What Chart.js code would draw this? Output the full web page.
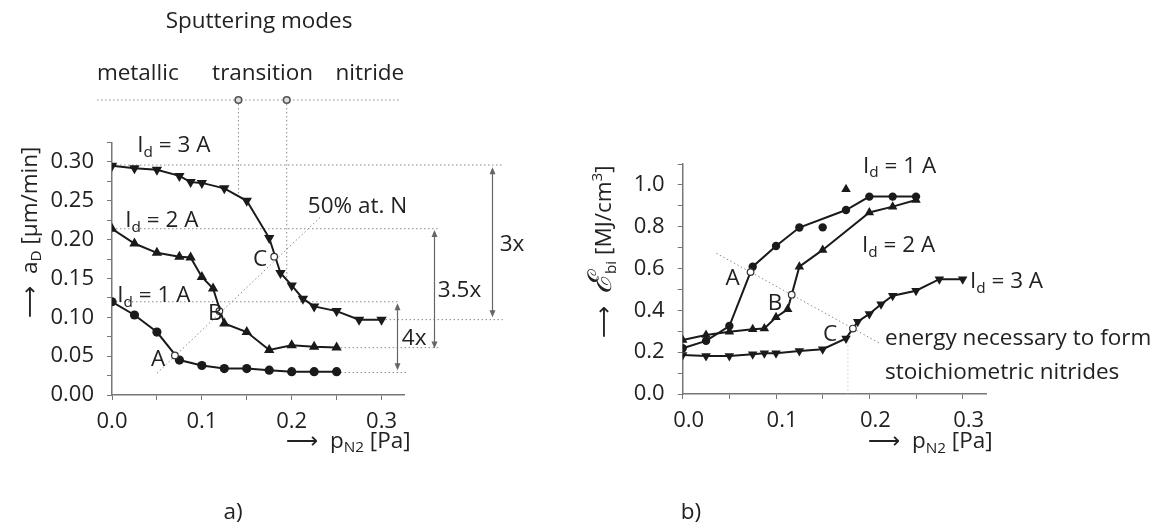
<!DOCTYPE html>
<html><head><meta charset="utf-8">
<script src="https://cdn.jsdelivr.net/npm/chart.js@4.4.0/dist/chart.umd.min.js"></script>
<style>
html,body{margin:0;padding:0;background:#fff;}
#wrap{position:relative;width:1165px;height:531px;overflow:hidden;background:#fff;}
#ca{position:absolute;left:0;top:0;}
#cb{position:absolute;left:560px;top:0;}
</style></head><body>
<div id="wrap"><canvas id="ca" width="560" height="531"></canvas><canvas id="cb" width="605" height="531"></canvas></div>
<script>
// ---------- data: panel a) deposition rate a_D [µm/min] vs p_N2 [Pa] ----------
const pN2_1A = [0, 0.025, 0.05, 0.075, 0.1, 0.125, 0.15, 0.175, 0.2, 0.225, 0.25];
const rate_1A = [0.120, 0.103, 0.081, 0.045, 0.038, 0.034, 0.034, 0.032, 0.030, 0.030, 0.030];
const pN2_2A = [0, 0.025, 0.05, 0.075, 0.0875, 0.1, 0.1125, 0.125, 0.15, 0.175, 0.2, 0.225, 0.25];
const rate_2A = [0.214, 0.195, 0.183, 0.178, 0.177, 0.152, 0.137, 0.092, 0.081, 0.058, 0.064, 0.062, 0.061];
const pN2_3A = [0, 0.025, 0.05, 0.075, 0.0875, 0.1, 0.125, 0.15, 0.175, 0.1875, 0.2, 0.2125, 0.225, 0.25, 0.275, 0.3];
const rate_3A = [0.295, 0.292, 0.290, 0.282, 0.274, 0.273, 0.266, 0.250, 0.202, 0.157, 0.141, 0.124, 0.114, 0.108, 0.097, 0.097];
// 50% at. N points A, B, C
const rateMarkX = [0.070, 0.1195, 0.1805];
const rateMarkY = [0.051, 0.108, 0.178];

// ---------- data: panel b) energy E_bi [MJ/cm3] vs p_N2 [Pa] ----------
const eX_1A = [0, 0.025, 0.05, 0.075, 0.1, 0.125, 0.175, 0.2, 0.225, 0.25];
const e_1A = [0.219, 0.254, 0.325, 0.609, 0.708, 0.796, 0.880, 0.944, 0.944, 0.944];
const eX_1A_extra = [0.15];
const e_1A_extra = [0.797];
const eX_2A = [0, 0.025, 0.05, 0.075, 0.0875, 0.1, 0.1125, 0.125, 0.15, 0.2, 0.225, 0.25];
const e_2A = [0.258, 0.282, 0.298, 0.310, 0.313, 0.367, 0.405, 0.609, 0.689, 0.868, 0.896, 0.928];
const eX_2A_extra = [0.175];
const e_2A_extra = [0.979];
const eX_3A = [0, 0.025, 0.05, 0.075, 0.0875, 0.1, 0.125, 0.15, 0.175, 0.1875, 0.2, 0.2125, 0.225, 0.25, 0.275, 0.3];
const e_3A = [0.187, 0.182, 0.182, 0.190, 0.195, 0.195, 0.206, 0.214, 0.266, 0.346, 0.383, 0.429, 0.470, 0.494, 0.549, 0.549];
const eMarkX = [0.0727, 0.1168, 0.1824];
const eMarkY = [0.583, 0.475, 0.313];

// ---------- tick labels ----------
const aXTickLabels = ['0.0', '0.1', '0.2', '0.3'];
const aYTickLabels = ['0.00', '0.05', '0.10', '0.15', '0.20', '0.25', '0.30'];
const bXTickLabels = ['0.0', '0.1', '0.2', '0.3'];
const bYTickLabels = ['0.0', '0.2', '0.4', '0.6', '0.8', '1.0'];

// ---------- helpers ----------
const FONT = "'Open Sans', 'DejaVu Sans', sans-serif";
const TXT = '#222';
const TSIZE = 22.5;
const xy = (xs, ys) => xs.map((x, i) => ({x: x, y: ys[i]}));

function partFont(p, size) {
  let s = size * (p.s || 1);
  if (p.k === 'sub' || p.k === 'sup') s = size * 0.68;
  return (p.st ? p.st + ' ' : '') + s + 'px ' + (p.f || FONT);
}
function drawRich(ctx, parts, x, y, align, size) {
  let w = 0;
  for (const p of parts) { ctx.font = partFont(p, size); w += ctx.measureText(p.t).width; }
  let cx = align === 'center' ? x - w / 2 : (align === 'right' ? x - w : x);
  const base = y + size * 0.36;
  ctx.textAlign = 'left'; ctx.textBaseline = 'alphabetic';
  for (const p of parts) {
    ctx.font = partFont(p, size);
    const dy = p.k === 'sub' ? size * 0.2 : (p.k === 'sup' ? -size * 0.42 : 0);
    ctx.fillText(p.t, cx, base + dy);
    cx += ctx.measureText(p.t).width;
  }
}
const T = (t, k) => ({t: t, k: k});

function annoPlugin(spec) {
  return {
    id: 'anno',
    beforeDatasetsDraw(chart) {
      const ctx = chart.ctx, sx = chart.scales.x, sy = chart.scales.y;
      ctx.save();
      for (const d of spec.dotted) {
        ctx.strokeStyle = d[4] || '#8a8a8a';
        ctx.lineWidth = 1;
        ctx.setLineDash([1.5, 2.5]);
        ctx.beginPath();
        ctx.moveTo(sx.getPixelForValue(d[0]), sy.getPixelForValue(d[1]));
        ctx.lineTo(sx.getPixelForValue(d[2]), sy.getPixelForValue(d[3]));
        ctx.stroke();
      }
      ctx.restore();
    },
    afterDatasetsDraw(chart) {
      const ctx = chart.ctx, sx = chart.scales.x, sy = chart.scales.y;
      ctx.save();
      for (const a of spec.arrows) {
        const x = Math.round(sx.getPixelForValue(a[0])) + 0.5;
        const y1 = sy.getPixelForValue(a[1]), y2 = sy.getPixelForValue(a[2]);
        ctx.strokeStyle = '#666'; ctx.fillStyle = '#666'; ctx.lineWidth = 1.2; ctx.setLineDash([]);
        ctx.beginPath(); ctx.moveTo(x, y1 + 2); ctx.lineTo(x, y2 - 2); ctx.stroke();
        ctx.beginPath(); ctx.moveTo(x, y1); ctx.lineTo(x - 3, y1 + 7); ctx.lineTo(x + 3, y1 + 7); ctx.closePath(); ctx.fill();
        ctx.beginPath(); ctx.moveTo(x, y2); ctx.lineTo(x - 3, y2 - 7); ctx.lineTo(x + 3, y2 - 7); ctx.closePath(); ctx.fill();
      }
      for (const c of spec.circles) {
        ctx.setLineDash([]);
        ctx.beginPath();
        ctx.arc(sx.getPixelForValue(c[0]), sy.getPixelForValue(c[1]), 3.3, 0, Math.PI * 2);
        ctx.fillStyle = '#ddd'; ctx.fill();
        ctx.strokeStyle = '#555'; ctx.lineWidth = 1.6; ctx.stroke();
      }
      ctx.fillStyle = TXT;
      for (const t of spec.texts) {
        const px = sx.getPixelForValue(t.x), py = sy.getPixelForValue(t.y);
        if (t.rot) {
          ctx.save(); ctx.translate(px, py); ctx.rotate(-Math.PI / 2);
          drawRich(ctx, t.parts, 0, 0, t.align || 'left', t.size || TSIZE);
          ctx.restore();
        } else {
          drawRich(ctx, t.parts, px, py, t.align || 'left', t.size || TSIZE);
        }
      }
      ctx.restore();
    }
  };
}

function axisScales(xMax, yMax, xStep, yStep, xLabels, yLabels, yWidth, xLabelOffset) {
  const tickFont = {family: FONT, size: 22};
  return {
    x: {
      type: 'linear', min: 0, max: xMax,
      afterFit(s) { s.height = 40; },
      border: {color: '#777', width: 1.5},
      grid: {drawOnChartArea: false, drawTicks: true, tickLength: 5, color: '#777', lineWidth: 1},
      ticks: {
        stepSize: xStep, includeBounds: false, autoSkip: false, maxRotation: 0,
        color: TXT, font: tickFont, padding: 9, labelOffset: xLabelOffset,
        callback: (v, i) => (i % 2 === 0 && xLabels[i / 2] !== undefined) ? xLabels[i / 2] : ''
      }
    },
    y: {
      type: 'linear', min: 0, max: yMax,
      afterFit(s) { s.width = yWidth; },
      border: {color: '#777', width: 1.5},
      grid: {drawOnChartArea: false, drawTicks: true, tickLength: 5, color: '#777', lineWidth: 1},
      ticks: {
        stepSize: yStep, includeBounds: false, autoSkip: false,
        color: TXT, font: tickFont, padding: 13,
        callback: (v, i) => (i % 2 === 0 && yLabels[i / 2] !== undefined) ? yLabels[i / 2] : ''
      }
    }
  };
}

const lineDs = (data, style, r, rot) => ({
  data: data, showLine: true, tension: 0,
  borderColor: '#1a1a1a', backgroundColor: '#1a1a1a', borderWidth: 2,
  pointStyle: style, pointRadius: r, rotation: rot || 0,
  pointBorderWidth: 0, pointBackgroundColor: '#1a1a1a'
});
const markDs = (data) => ({
  data: data, showLine: false, pointStyle: 'circle', pointRadius: 3.3,
  pointBackgroundColor: '#fff', pointBorderColor: '#333', pointBorderWidth: 1.2
});
const strayDs = (data, style, r) => ({
  data: data, showLine: false, pointStyle: style, pointRadius: r,
  pointBackgroundColor: '#1a1a1a', pointBorderWidth: 0
});

const commonOpts = {
  responsive: false, animation: false, events: [],
  plugins: {legend: {display: false}, tooltip: {enabled: false}}
};

// ---------- panel a ----------
const specA = {
  dotted: [
    [-0.0166, 0.3797, 0.3203, 0.3797],
    [0.1407, 0.3797, 0.1407, 0.258],
    [0.1945, 0.3797, 0.1945, 0.149],
    [0, 0.296, 0.435, 0.296],
    [0, 0.214, 0.365, 0.214],
    [0, 0.120, 0.32, 0.120],
    [0.3, 0.097, 0.435, 0.097],
    [0.25, 0.061, 0.365, 0.061],
    [0.25, 0.029, 0.328, 0.029],
    [0.05, 0.028, 0.232, 0.229]
  ],
  arrows: [[0.423, 0.293, 0.100], [0.358, 0.2125, 0.060], [0.3167, 0.118, 0.032]],
  circles: [[0.1407, 0.3797], [0.1945, 0.3797]],
  texts: [
    {x: 0.1637, y: 0.4826, parts: [T('Sputtering modes')], align: 'center'},
    {x: 0.0287, y: 0.4157, parts: [T('metallic')], align: 'center'},
    {x: 0.1676, y: 0.4157, parts: [T('transition')], align: 'center'},
    {x: 0.2870, y: 0.4157, parts: [T('nitride')], align: 'center'},
    {x: 0.0281, y: 0.323, parts: [T('I'), T('d', 'sub'), T(' = 3 A')]},
    {x: 0.0148, y: 0.2265, parts: [T('I'), T('d', 'sub'), T(' = 2 A')]},
    {x: 0.0059, y: 0.130, parts: [T('I'), T('d', 'sub'), T(' = 1 A')]},
    {x: 0.1648, y: 0.1763, parts: [T('C')], align: 'center'},
    {x: 0.1148, y: 0.1068, parts: [T('B')], align: 'center'},
    {x: 0.0514, y: 0.0476, parts: [T('A')], align: 'center'},
    {x: 0.218, y: 0.2445, parts: [T('50% at. N')]},
    {x: 0.4315, y: 0.1956, parts: [T('3x')]},
    {x: 0.3626, y: 0.1364, parts: [T('3.5x')]},
    {x: 0.3226, y: 0.0746, parts: [T('4x')]},
    {x: 0.1348, y: -0.1493, parts: [T('a)')], align: 'center'},
    {x: 0.1937, y: -0.0575, parts: [T('\u27F6'), T('  p'), T('N2', 'sub'), T(' [Pa]')]},
    {x: -0.093, y: 0.0991, rot: true, parts: [T('\u27F6'), T('  a'), T('D', 'sub'), T(' [\u00B5m/min]')]}
  ]
};

new Chart(document.getElementById('ca'), {
  type: 'scatter',
  data: {datasets: [
    markDs(xy(rateMarkX, rateMarkY)),
    lineDs(xy(pN2_1A, rate_1A), 'circle', 4.6),
    lineDs(xy(pN2_2A, rate_2A), 'triangle', 6),
    lineDs(xy(pN2_3A, rate_3A), 'triangle', 6, 180)
  ]},
  options: Object.assign({}, commonOpts, {
    layout: {padding: {left: 0, right: 156, top: 142.5, bottom: 96}},
    scales: axisScales(0.325, 0.325, 0.05, 0.025, aXTickLabels, aYTickLabels, 112, 0)
  }),
  plugins: [annoPlugin(specA)]
});

// ---------- panel b ----------
const specB = {
  dotted: [
    [0.036, 0.673, 0.211, 0.243],
    [0.177, 0.27, 0.177, 0.0, '#d0d0d0']
  ],
  arrows: [],
  circles: [],
  texts: [
    {x: 0.1932, y: 1.0957, parts: [T('I'), T('d', 'sub'), T(' = 1 A')]},
    {x: 0.1921, y: 0.7177, parts: [T('I'), T('d', 'sub'), T(' = 2 A')]},
    {x: 0.3078, y: 0.5455, parts: [T('I'), T('d', 'sub'), T(' = 3 A')]},
    {x: 0.0536, y: 0.5598, parts: [T('A')], align: 'center'},
    {x: 0.0989, y: 0.4402, parts: [T('B')], align: 'center'},
    {x: 0.1578, y: 0.2919, parts: [T('C')], align: 'center'},
    {x: 0.2168, y: 0.2727, parts: [T('energy necessary to form')]},
    {x: 0.2168, y: 0.110, parts: [T('stoichiometric nitrides')]},
    {x: 0.0089, y: -0.5598, parts: [T('b)')], align: 'center'},
    {x: 0.1985, y: -0.22, parts: [T('\u27F6'), T('  p'), T('N2', 'sub'), T(' [Pa]')]},
    {x: -0.0854, y: 0.268, rot: true, parts: [T('\u27F6'), T('  '), {t: '\u2130', s: 1.45, f: "'DejaVu Serif', serif", st: 'italic'}, T('bi', 'sub'), T(' [MJ/cm'), T('3', 'sup'), T(']')]}
  ]
};

new Chart(document.getElementById('cb'), {
  type: 'scatter',
  data: {datasets: [
    markDs(xy(eMarkX, eMarkY)),
    lineDs(xy(eX_1A, e_1A), 'circle', 4.2),
    strayDs(xy(eX_1A_extra, e_1A_extra), 'circle', 4.2),
    lineDs(xy(eX_2A, e_2A), 'triangle', 5.5),
    strayDs(xy(eX_2A_extra, e_2A_extra), 'triangle', 5.5),
    lineDs(xy(eX_3A, e_3A), 'triangle', 5.5, 180)
  ]},
  options: Object.assign({}, commonOpts, {
    layout: {padding: {left: 0, right: 179, top: 164, bottom: 97}},
    scales: axisScales(0.325, 1.1, 0.05, 0.1, bXTickLabels, bYTickLabels, 122.7, 6)
  }),
  plugins: [annoPlugin(specB)]
});
</script>
</body></html>
